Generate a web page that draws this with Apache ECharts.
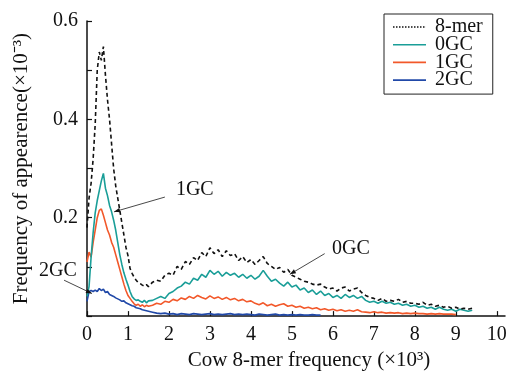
<!DOCTYPE html>
<html>
<head>
<meta charset="utf-8">
<script src="https://cdn.jsdelivr.net/npm/echarts@6/dist/echarts.min.js"></script>
<style>html,body{margin:0;padding:0;background:#fff}#c{width:512px;height:376px}</style>
</head>
<body>
<div id="c"></div>
<script>
// x positions (×10^3)
const xs = [0,0.05,0.1,0.15,0.2,0.25,0.3,0.35,0.4,0.45,0.5,0.55,0.6,0.65,0.7,0.75,0.8,0.85,0.9,0.95,1.0,1.05,1.1,1.15,1.2,1.25,1.3,1.35,1.4,1.45,1.5,
1.6,1.7,1.8,1.9,2.0,2.1,2.2,2.3,2.4,2.5,2.6,2.7,2.8,2.9,3.0,3.1,3.2,3.3,3.4,3.5,3.6,3.7,3.8,3.9,4.0,4.1,4.2,4.3,4.4,4.5,4.6,4.7,4.8,4.9,5.0,5.1,5.2,5.3,5.4,5.5,5.6,5.7,5.8,5.9,6.0,6.1,6.2,6.3,6.4,6.5,6.6,6.7,6.8,6.9,7.0,7.1,7.2,7.3,7.4,7.5,7.6,7.7,7.8,7.9,8.0,8.1,8.2,8.3,8.4,8.5,8.6,8.7,8.8,8.9,9.0,9.1,9.2,9.3,9.4];

const mer8 = [0.18,0.24,0.27,0.32,0.39,0.50,0.537,0.52,0.548,0.49,0.44,0.40,0.35,0.30,0.265,0.24,0.215,0.19,0.165,0.14,0.123,0.097,0.087,0.079,0.073,0.068,0.066,0.063,0.061,0.064,0.060,
0.069,0.073,0.071,0.083,0.087,0.083,0.101,0.095,0.111,0.105,0.119,0.113,0.129,0.121,0.139,0.127,0.135,0.121,0.133,0.123,0.127,0.113,0.121,0.109,0.115,0.105,0.113,0.121,0.107,0.101,0.095,0.099,0.089,0.095,0.083,0.079,0.075,0.071,0.069,0.065,0.063,0.065,0.059,0.055,0.057,0.051,0.057,0.059,0.051,0.055,0.057,0.048,0.042,0.038,0.036,0.032,0.036,0.030,0.032,0.030,0.034,0.028,0.030,0.026,0.026,0.024,0.028,0.022,0.024,0.020,0.022,0.018,0.020,0.016,0.018,0.014,0.016,0.014,0.016];

const gc0 = [0.04,0.06,0.12,0.17,0.21,0.235,0.255,0.275,0.29,0.26,0.245,0.225,0.212,0.195,0.175,0.15,0.125,0.105,0.088,0.075,0.063,0.05,0.04,0.035,0.032,0.033,0.03,0.028,0.032,0.027,0.031,
0.032,0.036,0.040,0.036,0.046,0.050,0.057,0.061,0.069,0.065,0.077,0.073,0.085,0.079,0.093,0.085,0.091,0.081,0.089,0.083,0.087,0.079,0.085,0.077,0.083,0.075,0.081,0.093,0.081,0.071,0.075,0.067,0.061,0.069,0.059,0.063,0.053,0.057,0.048,0.053,0.044,0.051,0.042,0.046,0.038,0.042,0.036,0.044,0.038,0.042,0.036,0.040,0.032,0.028,0.030,0.026,0.030,0.026,0.028,0.024,0.026,0.022,0.024,0.020,0.022,0.018,0.020,0.016,0.018,0.014,0.018,0.014,0.012,0.014,0.010,0.014,0.012,0.010,0.012];

const gc1 = [0.11,0.13,0.12,0.15,0.175,0.2,0.215,0.218,0.205,0.19,0.175,0.165,0.15,0.14,0.125,0.11,0.095,0.08,0.065,0.052,0.042,0.036,0.03,0.025,0.022,0.024,0.02,0.023,0.019,0.022,0.02,
0.022,0.026,0.024,0.030,0.028,0.034,0.031,0.037,0.034,0.040,0.036,0.042,0.038,0.035,0.041,0.036,0.039,0.034,0.038,0.033,0.036,0.031,0.034,0.029,0.031,0.026,0.023,0.027,0.021,0.024,0.020,0.023,0.025,0.020,0.022,0.018,0.020,0.016,0.018,0.015,0.017,0.013,0.015,0.012,0.014,0.011,0.013,0.010,0.012,0.010,0.013,0.009,0.008,0.007,0.009,0.007,0.008,0.006,0.007,0.006,0.007,0.005,0.006,0.005,0.006,0.005,0.005,0.004,0.005,0.004,0.005,0.004,0.004,0.004,0.003];

const gc2 = [0.03,0.05,0.052,0.05,0.053,0.05,0.056,0.052,0.055,0.048,0.05,0.044,0.042,0.04,0.037,0.035,0.033,0.03,0.031,0.027,0.025,0.023,0.021,0.02,0.017,0.016,0.015,0.013,0.012,0.011,0.01,
0.008,0.006,0.005,0.006,0.004,0.005,0.003,0.005,0.004,0.003,0.005,0.004,0.003,0.004,0.005,0.003,0.004,0.003,0.004,0.005,0.003,0.004,0.003,0.004,0.003,0.002,0.004,0.003,0.002,0.003,0.004,0.002,0.003,0.002,0.003,0.002,0.003,0.002,0.002,0.003,0.002,0.002];

const seriesNames = ['8-mer','0GC','1GC','2GC'];
const xTicks = [0,1,2,3,4,5,6,7,8,9,10];
const yLabels = [0.2,0.4,0.6];

// annotations: label, text centre, line start, arrow tip (data coords)
const notes = [
  {text:'1GC', at:[2.63,0.257], from:[1.90,0.242], to:[0.66,0.212]},
  {text:'2GC', at:[-0.71,0.093], from:[-0.56,0.073], to:[0.12,0.046]},
  {text:'0GC', at:[6.44,0.137], from:[5.80,0.127], to:[4.95,0.085]}
];

const FONT = "'Liberation Serif','Times New Roman',serif";
const colors = ['#111111','#1a9e98','#f2582a','#2149a8'];
const zip = arr => arr.map((v,i)=>[xs[i], v]);
const dottedIcon = 'path://' + Array.from({length:11},(_,k)=>'M'+(k*6)+',0h3v3h-3z').join('') + 'M65.9,0h0.1v3h-0.1z';

const chart = echarts.init(document.getElementById('c'), null, {renderer:'canvas'});
const option = {
  animation:false,
  backgroundColor:'#fff',
  grid:{left:87, right:7, top:21, bottom:58},
  legend:{
    orient:'vertical', left:384, top:14,
    data:[
      {name:seriesNames[0], icon:dottedIcon},
      {name:seriesNames[1], icon:'rect'},
      {name:seriesNames[2], icon:'rect'},
      {name:seriesNames[3], icon:'rect'}
    ],
    borderColor:'#222', borderWidth:1, borderRadius:0,
    padding:[3,10,4,9],
    itemWidth:33, itemHeight:1.6, itemGap:-2.3,
    textStyle:{fontFamily:FONT, fontSize:20, color:'#111', padding:[0,0,0,4]}
  },
  xAxis:{
    type:'value', min:0, max:10.2, interval:1,
    name:'Cow 8-mer frequency (×10³)', nameLocation:'middle', nameGap:25,
    nameTextStyle:{fontFamily:FONT, fontSize:21, color:'#111', padding:[0,0,0,26]},
    axisLine:{lineStyle:{color:'#111', width:1.5}},
    axisTick:{inside:true, length:5, lineStyle:{color:'#111', width:1.2}, customValues:xTicks},
    axisLabel:{fontFamily:FONT, fontSize:20, color:'#111', margin:9, customValues:xTicks},
    splitLine:{show:false}
  },
  yAxis:{
    type:'value', min:0, max:0.6, interval:0.1,
    name:'Frequency of appearence(×10⁻³)', nameLocation:'middle', nameGap:55, nameRotate:90,
    nameTextStyle:{fontFamily:FONT, fontSize:21, color:'#111'},
    axisLine:{lineStyle:{color:'#111', width:1.5}},
    axisTick:{inside:true, length:5, lineStyle:{color:'#111', width:1.2}},
    axisLabel:{fontFamily:FONT, fontSize:20, color:'#111', margin:9, customValues:yLabels,
      formatter:v=>v.toFixed(1)},
    splitLine:{show:false}
  },
  series:[
    {name:seriesNames[0], type:'line', data:zip(mer8), symbol:'none', z:5,
      lineStyle:{color:colors[0], width:1.6, type:[4,3]}, itemStyle:{color:colors[0]}},
    {name:seriesNames[1], type:'line', data:zip(gc0), symbol:'none', z:4,
      lineStyle:{color:colors[1], width:1.6}, itemStyle:{color:colors[1]}},
    {name:seriesNames[2], type:'line', data:zip(gc1), symbol:'none', z:3,
      lineStyle:{color:colors[2], width:1.6}, itemStyle:{color:colors[2]}},
    {name:seriesNames[3], type:'line', data:zip(gc2), symbol:'none', z:2,
      lineStyle:{color:colors[3], width:1.6}, itemStyle:{color:colors[3]}}
  ]
};
chart.setOption(option);

// annotation graphics anchored to data coordinates
const g = [];
notes.forEach(n=>{
  const t = chart.convertToPixel({gridIndex:0}, n.at);
  const a = chart.convertToPixel({gridIndex:0}, n.from);
  const b = chart.convertToPixel({gridIndex:0}, n.to);
  g.push({type:'text', x:t[0], y:t[1], style:{text:n.text, font:'20px '+FONT, fill:'#111', align:'center', verticalAlign:'middle'}, z:100});
  g.push({type:'line', shape:{x1:a[0],y1:a[1],x2:b[0],y2:b[1]}, style:{stroke:'#333', lineWidth:0.9}, z:100});
  const dx=b[0]-a[0], dy=b[1]-a[1], L=Math.hypot(dx,dy), ux=dx/L, uy=dy/L;
  const len=6, w=2.2;
  g.push({type:'polygon', shape:{points:[[b[0],b[1]],[b[0]-ux*len-uy*w,b[1]-uy*len+ux*w],[b[0]-ux*len+uy*w,b[1]-uy*len-ux*w]]}, style:{fill:'#111'}, z:100});
});
chart.setOption({graphic:g});
</script>
</body>
</html>
